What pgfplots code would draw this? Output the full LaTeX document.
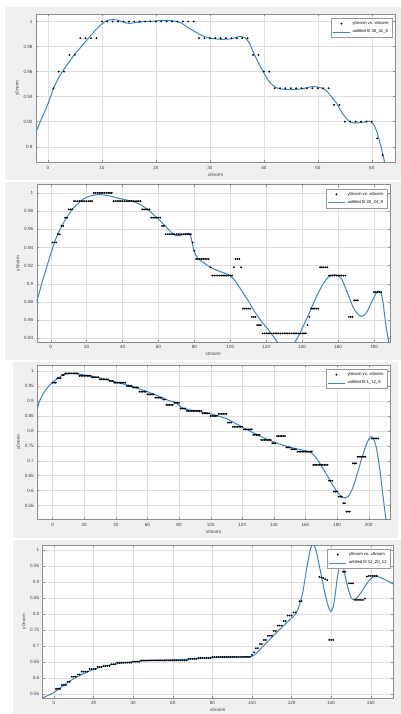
\documentclass[border=0pt]{standalone}
\usepackage{fontspec}
\setmainfont{Liberation Sans}
\usepackage{pgfplots}
\pgfplotsset{compat=1.18}
\definecolor{mblue}{RGB}{55,135,205}
\definecolor{figbg}{RGB}{240,240,240}
\pgfplotsset{
  mat/.style={
    scale only axis,
    anchor=south west,
    axis background/.style={fill=white},
    grid=major,
    major grid style={draw=black!13, line width=0.3pt},
    axis line style={draw=black!45, line width=0.4pt},
    tick style={draw=black!45, line width=0.3pt},
    tick align=inside,
    major tick length=2pt,
    xtick pos=both, ytick pos=both,
    xticklabel pos=lower, yticklabel pos=left,
    ticklabel style={font=\fontsize{4.6}{5}\selectfont, text=black!75},
    label style={font=\fontsize{4.6}{5}\selectfont, text=black!75},
    xlabel style={yshift=3pt},
    ylabel style={yshift=-3pt},
    /pgf/number format/assume math mode=true,
    legend style={font=\fontsize{4.2}{5}\selectfont, draw=black!40, fill=white,
      at={(1,1)}, anchor=north east, xshift=-3pt, yshift=-4pt,
      inner sep=1.2pt, row sep=0pt},
    legend cell align=left,
    xlabel={x0norm}, ylabel={y0norm},
  },
  dat/.style={only marks, mark=*, mark size=0.7pt, black},
  fit/.style={mblue, line width=1.0pt, smooth, no marks},
}
\begin{document}
\begin{tikzpicture}[x=1pt,y=1pt]
\useasboundingbox (0,0) rectangle (401,-714);
\fill[white] (0,0) rectangle (401,-714);
\fill[figbg] (5,-7) rectangle (401,-180);
\fill[figbg] (5,-182) rectangle (401,-360);
\fill[figbg] (13,-362) rectangle (398,-538);
\fill[figbg] (13,-540) rectangle (401,-714);

% ---------- Panel 1 ----------
\begin{axis}[mat, at={(36pt,-162.3pt)}, width=359pt, height=148.3pt,
  xmin=-2.2, xmax=64.3, ymin=0.8875, ymax=1.006,
  xtick={0,10,...,60}, ytick={0.9,0.92,0.94,0.96,0.98,1}]
\addplot[dat] coordinates {
(1,0.94667)(2,0.96)(3,0.96)(4,0.97333)(5,0.97333)(6,0.98667)(7,0.98667)(8,0.98667)(9,0.98667)
(10,1)(11,1)(12,1)(13,1)(14,1)(15,1)(16,1)(17,1)(18,1)(19,1)(20,1)(21,1)(22,1)(23,1)(24,1)(25,1)(26,1)(27,1)
(28,0.98667)(29,0.98667)(30,0.98667)(31,0.98667)(32,0.98667)(33,0.98667)(34,0.98667)(35,0.98667)(36,0.98667)(37,0.98667)
(38,0.97333)(39,0.97333)(40,0.96)(41,0.96)
(42,0.94667)(43,0.94667)(44,0.94667)(45,0.94667)(46,0.94667)(47,0.94667)(48,0.94667)(49,0.94667)(50,0.94667)(51,0.94667)(52,0.94667)
(53,0.93333)(54,0.93333)
(55,0.92)(56,0.92)(57,0.92)(58,0.92)(59,0.92)(60,0.92)
(61,0.90667)(62,0.89333)};
\addlegendentry{y0norm vs. x0norm}
\addplot[fit] coordinates {
(-2.2,0.912)(-1,0.924)(0,0.934)(1,0.946)(2,0.955)(3,0.962)(4,0.968)(5,0.974)(6,0.979)(7,0.984)(8,0.989)(9,0.994)(10,0.998)(11,1.0008)(12,1.0015)(13,1.001)(14,0.9995)(15,0.9985)(16,0.999)(18,1.0)(20,1.0005)(22,1.001)(24,1.0)(25,0.998)(26,0.995)(27,0.9925)(28,0.990)(29,0.988)(30,0.9868)(32,0.9858)(34,0.9862)(35.5,0.988)(36.5,0.987)(37.3,0.983)(38,0.976)(39,0.967)(40,0.959)(41,0.952)(42,0.948)(43,0.9462)(45,0.9455)(47,0.9462)(49,0.948)(50.5,0.9472)(51.5,0.945)(52.5,0.940)(53.5,0.9345)(54.5,0.927)(55.5,0.9215)(56.5,0.919)(58,0.9193)(59.5,0.9202)(60.3,0.918)(61,0.911)(61.7,0.9)(62.3,0.889)(62.8,0.878)};
\addlegendentry{untitled fit 38\_41\_8}
\end{axis}

% ---------- Panel 2 ----------
\begin{axis}[mat, at={(36.7pt,-342pt)}, width=353.3pt, height=157.3pt,
  xmin=-7.8, xmax=188.9, ymin=0.836, ymax=1.009,
  xtick={0,20,...,180}, ytick={0.84,0.86,0.88,0.9,0.92,0.94,0.96,0.98,1}]
\addplot[dat] coordinates {
(1,0.94545)(2,0.94545)(3,0.94545)(4,0.95455)(5,0.95455)(6,0.96364)(7,0.96364)(8,0.97273)(9,0.97273)
(10,0.98182)(11,0.98182)(12,0.98182)
(13,0.99091)(14,0.99091)(15,0.99091)(16,0.99091)(17,0.99091)(18,0.99091)(19,0.99091)(20,0.99091)(21,0.99091)(22,0.99091)(23,0.99091)
(24,1)(25,1)(26,1)(27,1)(28,1)(29,1)(30,1)(31,1)(32,1)(33,1)(34,1)
(35,0.99091)(36,0.99091)(37,0.99091)(38,0.99091)(39,0.99091)(40,0.99091)(41,0.99091)(42,0.99091)(43,0.99091)(44,0.99091)(45,0.99091)(46,0.99091)(47,0.99091)(48,0.99091)(49,0.99091)(50,0.99091)
(51,0.98182)(52,0.98182)(53,0.98182)(54,0.98182)(55,0.98182)
(56,0.97273)(57,0.97273)(58,0.97273)(59,0.97273)(60,0.97273)(61,0.97273)
(62,0.96364)(63,0.96364)
(64,0.95455)(65,0.95455)(66,0.95455)(67,0.95455)(68,0.95455)(69,0.95455)(70,0.95455)(71,0.95455)(72,0.95455)(73,0.95455)(74,0.95455)(75,0.95455)(76,0.95455)(77,0.95455)(78,0.95455)
(79,0.94545)(80,0.93636)
(81,0.92727)(82,0.92727)(83,0.92727)(84,0.92727)(85,0.92727)(86,0.92727)(87,0.92727)(88,0.92727)
(89,0.91818)
(90,0.90909)(91,0.90909)(92,0.90909)(93,0.90909)(94,0.90909)(95,0.90909)(96,0.90909)(97,0.90909)(98,0.90909)(99,0.90909)(100,0.90909)(101,0.90909)
(102,0.91818)(103,0.92727)(104,0.92727)(105,0.92727)(106,0.91818)
(107,0.87273)(108,0.87273)(109,0.87273)(110,0.87273)(111,0.87273)
(112,0.86364)(113,0.86364)(114,0.86364)
(115,0.85455)(116,0.85455)(117,0.85455)
(118,0.84545)(119,0.84545)(120,0.84545)(121,0.84545)(122,0.84545)(123,0.84545)(124,0.84545)(125,0.84545)(126,0.84545)(127,0.84545)(128,0.84545)(129,0.84545)(130,0.84545)(131,0.84545)(132,0.84545)(133,0.84545)(134,0.84545)(135,0.84545)(136,0.84545)(137,0.84545)(138,0.84545)(139,0.84545)(140,0.84545)(141,0.84545)(142,0.84545)
(143,0.85455)(144,0.86364)
(145,0.87273)(146,0.87273)(147,0.87273)(148,0.87273)(149,0.87273)
(150,0.91818)(151,0.91818)(152,0.91818)(153,0.91818)(154,0.91818)
(155,0.90909)(156,0.90909)(157,0.90909)(158,0.90909)(159,0.90909)(160,0.90909)(161,0.90909)(162,0.90909)(163,0.90909)(164,0.90909)
(166,0.86364)(167,0.86364)(168,0.86364)
(169,0.88182)(170,0.88182)(171,0.88182)
(180,0.89091)(181,0.89091)(182,0.89091)(183,0.89091)(184,0.89091)};
\addlegendentry{y0norm vs. x0norm}
\addplot[fit] coordinates {
(-7.8,0.88)(-6,0.893)(-4,0.907)(-2,0.92)(0,0.933)(2,0.945)(4,0.955)(6,0.963)(8,0.97)(10,0.976)(12,0.982)(15,0.988)(18,0.993)(21,0.996)(25,0.998)(28,0.998)(32,0.997)(36,0.995)(40,0.993)(45,0.991)(50,0.987)(55,0.98)(60,0.971)(65,0.961)(68,0.955)(70,0.953)(72,0.953)(75,0.955)(77,0.955)(78,0.952)(79,0.943)(80,0.935)(82,0.928)(86,0.922)(90,0.917)(95,0.913)(99,0.910)(102,0.905)(106.5,0.892)(110,0.881)(114,0.868)(118,0.857)(120.6,0.851)(124,0.842)(127,0.834)(130,0.828)(134,0.83)(136,0.836)(138.3,0.844)(141,0.855)(144,0.868)(147,0.882)(149.5,0.892)(152,0.901)(155,0.908)(158.5,0.910)(161.7,0.906)(164,0.896)(166.4,0.884)(168,0.876)(170,0.869)(173,0.864)(175.7,0.868)(177.5,0.875)(179.4,0.883)(181,0.889)(182.6,0.892)(184,0.889)(185,0.88)(186,0.864)(187,0.85)(188,0.838)(189,0.825)};
\addlegendentry{untitled fit 20\_24\_9}
\end{axis}

% ---------- Panel 3 ----------
\begin{axis}[mat, at={(37.3pt,-519.3pt)}, width=352.7pt, height=154.3pt,
  xmin=-9.7, xmax=213.5, ymin=0.5044, ymax=1.019,
  xtick={0,20,...,200}, ytick={0.55,0.6,0.65,0.7,0.75,0.8,0.85,0.9,0.95,1}]
\addplot[dat] coordinates {
(0,0.96)(1,0.96)(2,0.96)(3,0.975)(4,0.975)(5,0.975)(6,0.986)(7,0.986)
(8,0.991)(9,0.991)(10,0.991)(11,0.991)(12,0.991)(13,0.991)(14,0.991)(15,0.991)(16,0.991)
(17,0.983)(18,0.983)(19,0.983)(20,0.983)(21,0.983)(22,0.983)(23,0.983)(24,0.983)
(25,0.978)(26,0.978)(27,0.978)(28,0.978)(29,0.978)
(30,0.971)(31,0.971)(32,0.971)(33,0.971)(34,0.971)(35,0.971)
(36,0.966)(37,0.966)(38,0.966)
(39,0.96)(40,0.96)(41,0.96)(42,0.96)(43,0.96)(44,0.96)(45,0.96)(46,0.96)
(47,0.949)(48,0.949)(49,0.949)(50,0.949)
(51,0.944)(52,0.944)(53,0.944)(54,0.944)
(55,0.93)(56,0.93)(57,0.93)(58,0.93)(59,0.93)
(60,0.921)(61,0.921)(62,0.921)(63,0.921)(64,0.921)
(65,0.91)(66,0.91)(67,0.91)(68,0.91)(69,0.91)
(70,0.904)(71,0.904)
(72,0.886)(73,0.886)(74,0.886)(75,0.886)(76,0.886)
(77,0.893)(78,0.893)(79,0.893)(80,0.893)
(81,0.874)(82,0.874)(83,0.874)(84,0.874)
(85,0.866)(86,0.866)(87,0.866)(88,0.866)(89,0.866)(90,0.866)(91,0.866)(92,0.866)(93,0.866)(94,0.866)
(95,0.858)(96,0.858)(97,0.858)(98,0.858)(99,0.858)
(100,0.849)(101,0.849)(102,0.849)(103,0.849)(104,0.849)
(105,0.856)(106,0.856)(107,0.856)(108,0.856)(109,0.856)(110,0.856)
(111,0.827)(112,0.827)(113,0.827)
(114,0.813)(115,0.813)(116,0.813)(117,0.813)(118,0.813)(119,0.813)(120,0.813)
(121,0.804)(122,0.804)(123,0.804)(124,0.804)(125,0.804)(126,0.804)
(127,0.786)(128,0.786)(129,0.786)(130,0.786)(131,0.786)
(132,0.769)(133,0.769)(134,0.769)(135,0.769)(136,0.769)(137,0.769)(138,0.769)
(139,0.758)(140,0.758)(141,0.758)
(142,0.782)(143,0.782)(144,0.782)(145,0.782)(146,0.782)(147,0.782)
(148,0.744)(149,0.744)(150,0.744)
(151,0.738)(152,0.738)(153,0.738)(154,0.738)
(155,0.73)(156,0.73)(157,0.73)(158,0.73)(159,0.73)(160,0.73)(161,0.73)(162,0.73)(163,0.73)(164,0.73)
(165,0.686)(166,0.686)(167,0.686)(168,0.686)(169,0.686)(170,0.686)(171,0.686)(172,0.686)(173,0.686)(174,0.686)
(175,0.633)(176,0.633)(177,0.633)
(178,0.597)(179,0.597)(180,0.597)
(181,0.58)(182,0.58)(183,0.58)
(184,0.558)(185,0.558)
(186,0.53)(187,0.53)(188,0.53)
(190,0.691)(191,0.691)(192,0.691)
(193,0.713)(194,0.713)(195,0.713)(196,0.713)(197,0.713)(198,0.713)
(202,0.774)(203,0.774)(204,0.774)(205,0.774)(206,0.774)};
\addlegendentry{y0norm vs. x0norm}
\addplot[fit] coordinates {
(-9.7,0.873)(-8,0.902)(-6,0.923)(-4,0.939)(-2,0.951)(0,0.961)(3,0.974)(6,0.984)(9,0.9895)(12,0.991)(16,0.989)(20,0.986)(30,0.976)(40,0.962)(50,0.948)(60,0.93)(70,0.908)(75,0.898)(77.5,0.895)(80,0.885)(83,0.873)(90,0.866)(100,0.856)(110,0.84)(120,0.812)(130,0.785)(140,0.762)(150,0.745)(160,0.733)(164,0.725)(168,0.7)(172,0.666)(176,0.63)(180,0.597)(183,0.579)(185,0.575)(187,0.58)(190,0.61)(193,0.66)(196,0.715)(199,0.76)(201,0.779)(203,0.774)(205,0.74)(207,0.672)(209,0.585)(211,0.5)};
\addlegendentry{untitled fit 1\_12\_8}
\end{axis}

% ---------- Panel 4 ----------
\begin{axis}[mat, at={(42.7pt,-698pt)}, width=350.3pt, height=153pt,
  xmin=-5.7, xmax=171.2, ymin=0.5375, ymax=1.0156,
  xtick={0,20,...,160}, ytick={0.55,0.6,0.65,0.7,0.75,0.8,0.85,0.9,0.95,1}]
\addplot[dat] coordinates {
(1,0.566)(2,0.566)(3,0.566)(4,0.578)(5,0.578)(6,0.578)(7,0.588)(8,0.588)
(9,0.604)(10,0.604)(11,0.604)(12,0.611)(13,0.611)
(14,0.62)(15,0.62)(16,0.62)(17,0.62)
(18,0.628)(19,0.628)(20,0.628)(21,0.628)
(22,0.635)(23,0.635)(24,0.635)
(25,0.638)(26,0.638)(27,0.638)(28,0.638)
(29,0.643)(30,0.643)(31,0.643)
(32,0.648)(33,0.648)(34,0.648)(35,0.648)(36,0.648)(37,0.648)(38,0.648)(39,0.648)
(40,0.651)(41,0.651)(42,0.651)(43,0.651)
(44,0.655)(45,0.655)(46,0.655)(47,0.655)(48,0.655)(49,0.655)(50,0.655)(51,0.655)(52,0.655)(53,0.655)(54,0.655)(55,0.655)(56,0.655)(57,0.655)(58,0.655)(59,0.655)(60,0.655)(61,0.655)(62,0.655)(63,0.655)(64,0.655)(65,0.655)(66,0.655)(67,0.655)
(68,0.66)(69,0.66)(70,0.66)(71,0.66)(72,0.66)
(73,0.663)(74,0.663)(75,0.663)(76,0.663)(77,0.663)(78,0.663)(79,0.663)
(80,0.666)(81,0.666)(82,0.666)(83,0.666)(84,0.666)(85,0.666)(86,0.666)(87,0.666)(88,0.666)(89,0.666)(90,0.666)(91,0.666)(92,0.666)(93,0.666)(94,0.666)(95,0.666)(96,0.666)(97,0.666)(98,0.666)(99,0.666)
(100,0.672)(101,0.68)(102,0.693)(103,0.693)(104,0.706)(105,0.706)(106,0.719)(107,0.719)
(108,0.732)(109,0.732)(110,0.732)(111,0.747)(112,0.747)(113,0.764)(114,0.764)(115,0.764)
(116,0.778)(117,0.778)(118,0.795)(119,0.795)(120,0.795)(121,0.805)(122,0.805)
(124,0.84)(125,0.84)
(134,0.916)(135,0.914)(136,0.912)(137,0.909)(138,0.906)
(139,0.719)(140,0.719)(141,0.719)
(146,0.932)(147,0.932)
(149,0.896)(150,0.896)(151,0.896)
(152,0.844)(153,0.844)(154,0.844)(155,0.844)(156,0.844)(157,0.848)
(158,0.917)(159,0.919)(160,0.919)(161,0.919)(162,0.919)(163,0.919)};
\addlegendentry{y0norm vs. x0norm}
\addplot[fit] coordinates {
(-5.7,0.538)(0,0.555)(5,0.578)(10,0.598)(15,0.614)(20,0.627)(25,0.636)(30,0.643)(40,0.651)(50,0.655)(60,0.657)(70,0.659)(80,0.663)(90,0.665)(98,0.666)(100,0.668)(102,0.676)(105,0.695)(110,0.727)(115,0.758)(120,0.787)(122,0.8)(123,0.812)(124,0.83)(125,0.85)(126,0.88)(127,0.92)(128,0.955)(129,0.99)(130,1.012)(131,1.018)(132,1.006)(133,0.98)(135,0.92)(137,0.86)(138.5,0.825)(139.7,0.808)(141,0.822)(142,0.86)(143,0.91)(144,0.945)(145,0.958)(146,0.948)(147,0.92)(148.5,0.88)(150,0.852)(151.2,0.845)(152.5,0.848)(155,0.866)(158,0.896)(160.5,0.913)(162,0.918)(164,0.916)(167,0.908)(171.2,0.894)};
\addlegendentry{untitled fit 12\_20\_12}
\end{axis}
\end{tikzpicture}
\end{document}
